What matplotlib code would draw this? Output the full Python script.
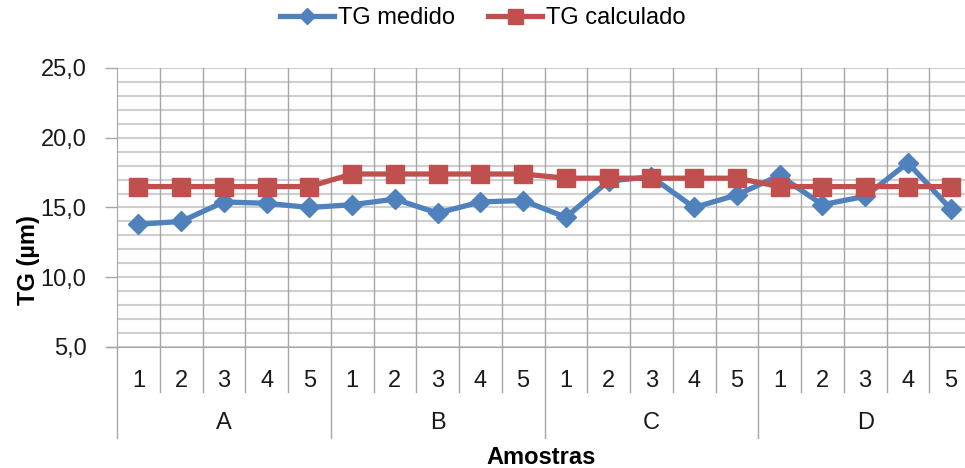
import matplotlib
matplotlib.use("Agg")
import matplotlib.pyplot as plt
import matplotlib.transforms as mtransforms
import numpy as np

plt.rcParams["font.family"] = ["Liberation Sans", "DejaVu Sans"]

groups = ["A", "B", "C", "D"]
samples = ["1", "2", "3", "4", "5"]
tg_medido = [13.8, 14.0, 15.4, 15.3, 15.0,
             15.2, 15.6, 14.6, 15.4, 15.5,
             14.3, 16.9, 17.2, 15.0, 15.9,
             17.3, 15.2, 15.8, 18.2, 14.9]
tg_calculado = [16.5, 16.5, 16.5, 16.5, 16.5,
                17.4, 17.4, 17.4, 17.4, 17.4,
                17.1, 17.1, 17.1, 17.1, 17.1,
                16.5, 16.5, 16.5, 16.5, 16.5]

blue = "#4F81BD"
red = "#C0504D"
grid_h = "#CFCFCF"
grid_v = "#A6A6A6"
fs = 17

fig = plt.figure(figsize=(9.65, 4.68), dpi=100)
# right edge of the plot area is cut by the image border, as in the original
ax = fig.add_axes([117 / 965, 121 / 468, 855 / 965, 279 / 468])

n = len(groups) * len(samples)
x = np.arange(n)

ax.plot(x, tg_medido, color=blue, lw=3.8, marker="D", ms=10,
        mec=blue, mfc=blue, label="TG medido", zorder=3)
ax.plot(x, tg_calculado, color=red, lw=3.8, marker="s", ms=13.5,
        mec=red, mfc=red, label="TG calculado", zorder=4)

ax.set_xlim(-0.5, n - 0.5)
ax.set_ylim(5, 25)
ax.set_yticks(np.arange(5, 26, 5))
ax.set_yticklabels([f"{v:.1f}".replace(".", ",") for v in np.arange(5, 26, 5)],
                   fontsize=fs)
ax.set_yticks(np.arange(5, 26, 1), minor=True)
ax.tick_params(axis="y", which="major", length=9, color=grid_v, width=1,
               pad=13, labelcolor="#1a1a1a")
ax.tick_params(axis="y", which="minor", length=0)
ax.grid(axis="y", which="both", color=grid_h, lw=1.5)

ax.set_xticks([])
for b in np.arange(0.5, n - 0.5, 1):
    ax.axvline(b, color=grid_v, lw=1, zorder=1)
ax.set_axisbelow(True)

for side in ["top", "right"]:
    ax.spines[side].set_visible(False)
ax.spines["left"].set_color(grid_v)
ax.spines["bottom"].set_color(grid_v)

# multi-level category axis
trans = mtransforms.blended_transform_factory(ax.transData, fig.transFigure)
y_top = 121 / 468
for i in range(n + 1):
    b = i - 0.5
    y_end = 30 / 468 if i % len(samples) == 0 else 76 / 468
    ax.plot([b, b], [y_top, y_end], color=grid_v, lw=1, transform=trans,
            clip_on=False)
ax.plot([-0.5 - 0.22, -0.5], [y_top, y_top], color=grid_v, lw=1,
        transform=trans, clip_on=False)

for gi, g in enumerate(groups):
    for si, s in enumerate(samples):
        ax.text(gi * len(samples) + si, 87 / 468, s, transform=trans,
                ha="center", va="center", fontsize=fs, color="#1a1a1a")
    ax.text(gi * len(samples) + (len(samples) - 1) / 2, 45 / 468, g,
            transform=trans, ha="center", va="center", fontsize=fs,
            color="#1a1a1a")

fig.text(0.5 * (117 + 965) / 965, 10 / 468, "Amostras", ha="center",
         va="center", fontsize=fs, fontweight="bold")
fig.text(28 / 965, 208 / 468, "TG (µm)", ha="center", va="center",
         rotation=90, fontsize=fs, fontweight="bold")

fig.legend(loc="center", bbox_to_anchor=(0.5, 1 - 18 / 468), ncol=2,
           frameon=False, fontsize=fs, handlelength=2.3, handletextpad=0.15,
           columnspacing=1.4, borderaxespad=0, markerscale=0.8)

fig.savefig("out.png", dpi=100)
